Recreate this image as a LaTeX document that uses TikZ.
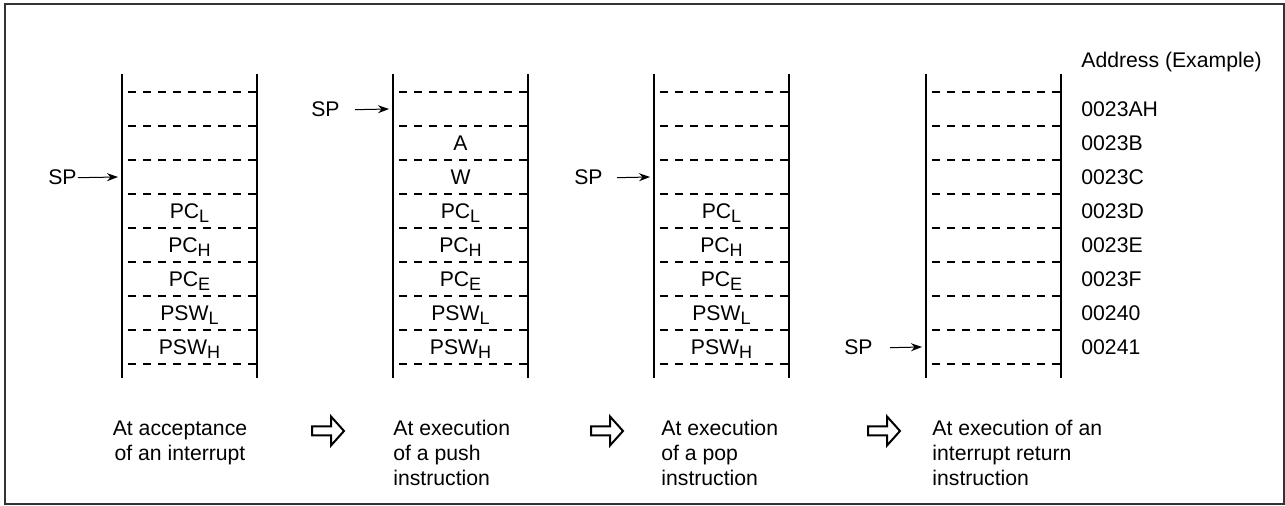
\documentclass[tikz,border=0pt]{standalone}
\usepackage{fontspec}
\setmainfont{Liberation Sans}
\usetikzlibrary{arrows.meta}

\tikzstyle{wall}    = [line width=1pt]
\tikzstyle{slot}    = [line width=0.9pt, dash pattern=on 4pt off 3.5pt, dash phase=4.5pt]
\tikzstyle{cell}    = [font=\fontsize{10.6}{12.5}\selectfont, inner sep=0pt]
\tikzstyle{caption} = [cell, anchor=base west, align=left]
\tikzstyle{sparrow} = [-{Stealth[length=5.5pt,width=4pt]}, line width=0.5pt]
\tikzstyle{hollow}  = [line width=1pt, line join=miter]
\def\lowsub#1{\raisebox{-1.8pt}{\fontsize{9}{10}\selectfont #1}}
\def\stackcol#1#2{
  \draw[wall] (#2,74) -- (#2,378);
  \draw[wall] (#2+135,74) -- (#2+135,378);
  \foreach \k in {0,1,...,8}
    \draw[slot] (#2,92+34*\k) -- (#2+135,92+34*\k);
  \foreach \k in {1,2,...,8}
    \coordinate (#1-\k) at (#2,75+34*\k);
}
\def\stackcells#1#2#3{
  \foreach \k/\txt in {#3}
    \node[cell, anchor=base] (#1-t\k) at (#2+67.5,83+34*\k) {\txt};
}
\def\hollowarrow#1{ (#1,426.5) -- ++(19,0) -- ++(0,-10) -- ++(13,14.5) -- ++(-13,14.5) -- ++(0,-10) -- ++(-19,0) -- cycle }

\begin{document}
\begin{tikzpicture}[x=0.5pt, y=-0.5pt]
  \useasboundingbox (0,0) rectangle (1285,506);
  \draw[line width=1pt, black!80] (4.5,4.5) rectangle (1283.5,504.5);
  % the four stacks
  \stackcol{a}{122}
  \stackcol{b}{393}
  \stackcol{c}{654}
  \stackcol{d}{926}
  \stackcells{a}{122}{4/PC\lowsub{L}, 5/PC\lowsub{H}, 6/PC\lowsub{E}, 7/PSW\lowsub{L}, 8/PSW\lowsub{H}}
  \stackcells{b}{393}{2/A, 3/W, 4/PC\lowsub{L}, 5/PC\lowsub{H}, 6/PC\lowsub{E}, 7/PSW\lowsub{L}, 8/PSW\lowsub{H}}
  \stackcells{c}{654}{4/PC\lowsub{L}, 5/PC\lowsub{H}, 6/PC\lowsub{E}, 7/PSW\lowsub{L}, 8/PSW\lowsub{H}}
  % addresses
  \node[cell, anchor=base west] (head) at (1081,68) {Address (Example)};
  \foreach \k/\adr in {1/0023AH, 2/0023B, 3/0023C, 4/0023D, 5/0023E, 6/0023F, 7/00240, 8/00241}
    \node[cell, anchor=base west] (adr\k) at (1081,83+34*\k) {\adr};
  % stack pointers
  \foreach \s/\x/\k/\gap in {a/77/3/0.5pt, b/340/1/7.5pt, c/603/3/7pt, d/873/8/8.5pt}
  {
    \node[cell, anchor=base east] (sp\s) at (\x,83+34*\k) {SP};
    \draw[sparrow] ([xshift=\gap]sp\s.east) -- ([xshift=-2pt]\s-\k);
  }
  % captions (base = last line)
  \node[caption, align=center, anchor=base] (capa) at (180,461) {At acceptance\\of an interrupt};
  \node[caption] (capb) at (393,486) {At execution\\of a push\\instruction};
  \node[caption] (capc) at (661,486) {At execution\\of a pop\\instruction};
  \node[caption] (capd) at (932,486) {At execution of an\\interrupt return\\instruction};
  \draw[hollow] \hollowarrow{312};
  \draw[hollow] \hollowarrow{591};
  \draw[hollow] \hollowarrow{868};
\end{tikzpicture}
\end{document}
